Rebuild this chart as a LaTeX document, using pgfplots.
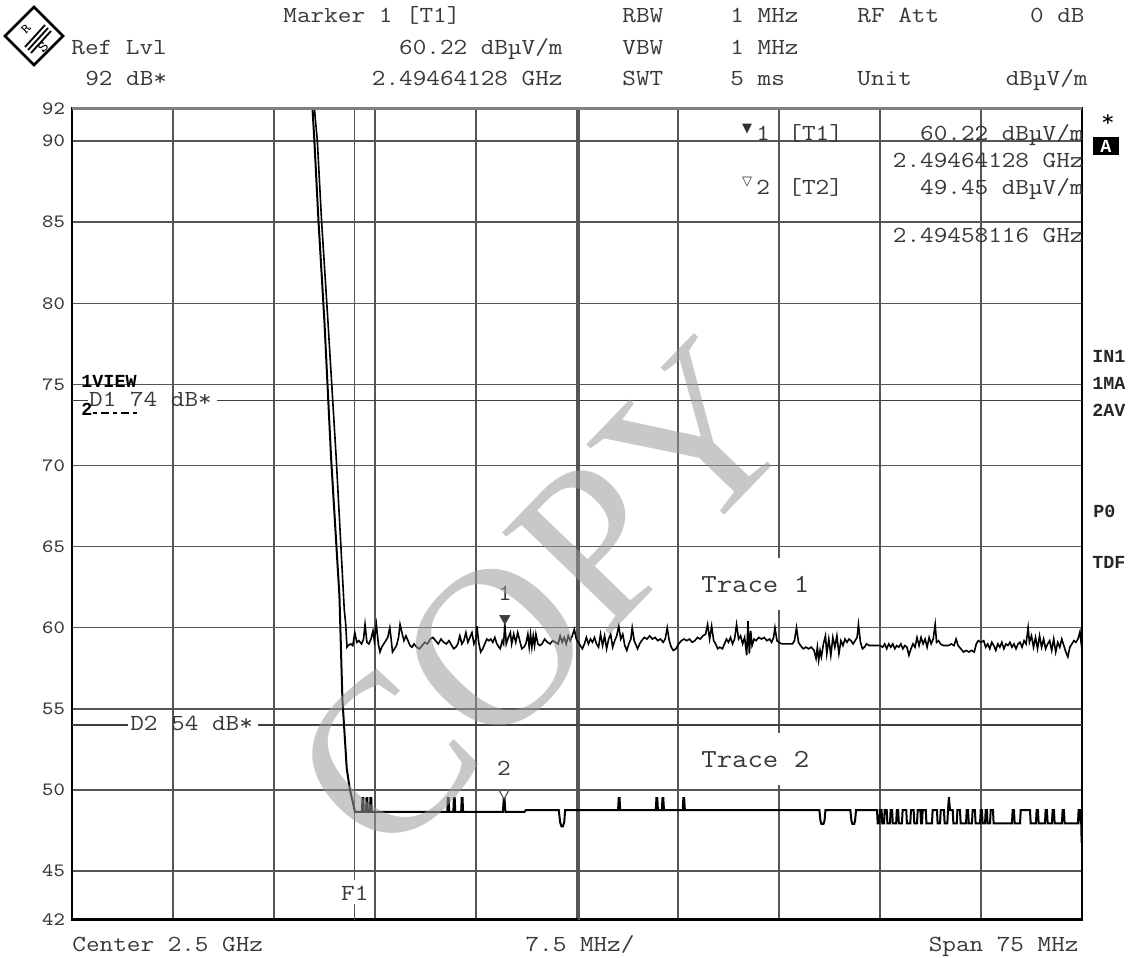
\documentclass[border=0pt]{standalone}
\usepackage{fontspec}
\setmainfont{Latin Modern Mono}[FakeStretch=1.15]
\newfontfamily\bmono{Liberation Mono}
\newfontfamily\wmfont{Liberation Serif}
\newfontfamily\symfont{DejaVu Sans}
\usepackage{pgfplots}
\pgfplotsset{compat=1.18}
\definecolor{txt}{HTML}{383838}
\definecolor{grd}{HTML}{555555}
\definecolor{wm}{HTML}{9B9B9B}
\newcommand\hd{\fontsize{11.5}{13}\selectfont}
\newcommand\sm{\fontsize{9.4}{11}\selectfont}
\newcommand\bsm{\bmono\bfseries\fontsize{9.2}{11}\selectfont}
\begin{document}
\begin{tikzpicture}
\useasboundingbox (0,0) rectangle (568pt,479pt);
\begin{axis}[
  at={(36pt,19.15pt)}, anchor=south west,
  scale only axis, width=505pt, height=405.55pt,
  xmin=2462.5, xmax=2537.5, ymin=42, ymax=92,
  xtick={2470,2477.5,2485,2492.5,2500,2507.5,2515,2522.5,2530},
  xticklabels={},
  ytick={42,45,50,55,60,65,70,75,80,85,90,92},
  grid=major, major grid style={grd, line width=0.7pt},
  major tick length=0pt,
  axis line style={black, line width=1.4pt},
  y tick label style={font=\sm, text=txt},
  /pgf/number format/assume math mode=true,
]
% display lines D1 and D2
\addplot[black!75, line width=0.7pt] coordinates {(2462.5,74) (2463.69,74)};
\addplot[black!75, line width=0.7pt] coordinates {(2473.27,74) (2537.5,74)};
\addplot[black!75, line width=0.7pt] coordinates {(2462.5,54) (2466.66,54)};
\addplot[black!75, line width=0.7pt] coordinates {(2476.31,54) (2537.5,54)};
% F1 line and centre double line
\addplot[grd, line width=0.7pt] coordinates {(2483.5,92) (2483.5,44.44)};
\addplot[grd, line width=0.7pt] coordinates {(2483.5,42.96) (2483.5,42)};
\addplot[grd, line width=0.6pt] coordinates {(2500.15,42) (2500.15,92)};
% Trace 1 (max peak)
\addplot[black, line width=0.8pt] coordinates {
(2462.5,92) (2480.50,92) (2480.72,90) (2481.03,85.13) (2481.50,78.96) (2482.12,70.46) (2482.72,61.09) (2482.82,60.28) (2482.92,58.8)
(2483.0,58.9) (2483.2,59.0) (2483.35,58.9) (2483.5,59.7) (2483.65,59.1) (2483.8,59.2) (2484.0,59.0) (2484.15,59.3) (2484.26,60.2) (2484.4,59.1) (2484.55,59.0) (2484.7,59.3) (2484.85,59.8) (2484.95,59.2) (2485.1,60.2) (2485.25,59.0) (2485.37,58.5) (2485.5,58.8) (2485.65,59.0) (2485.8,59.2) (2485.95,59.4) (2486.1,60.0) (2486.2,59.3) (2486.3,58.5) (2486.45,58.7) (2486.6,58.9) (2486.75,59.4) (2486.86,60.2) (2487.0,59.7) (2487.15,59.2) (2487.3,59.5) (2487.45,59.2) (2487.6,58.9) (2487.75,58.8) (2487.9,59.0) (2488.1,58.8) (2488.3,58.7) (2488.5,58.9) (2488.7,59.1) (2488.9,59.0) (2489.1,59.3) (2489.3,59.4) (2489.5,59.2) (2489.7,59.0) (2489.9,59.3) (2490.1,59.1) (2490.3,59.0) (2490.5,59.2) (2490.7,58.9) (2490.85,58.7) (2491.0,58.8) (2491.15,59.0) (2491.3,59.5) (2491.45,59.0) (2491.6,59.2) (2491.75,59.7) (2491.9,59.1) (2492.05,59.4) (2492.2,59.7) (2492.35,59.0) (2492.5,59.3) (2492.57,60.1) (2492.7,59.1) (2492.85,58.5) (2493.0,58.7) (2493.15,59.0) (2493.3,59.3) (2493.45,59.2) (2493.6,59.3) (2493.75,59.1) (2493.9,59.4) (2494.05,59.0) (2494.2,58.8) (2494.3,58.7) (2494.45,59.2) (2494.55,59.0) (2494.64,60.22) (2494.75,59.0) (2494.9,59.4) (2495.05,59.7) (2495.15,59.0) (2495.3,59.6) (2495.45,59.1) (2495.6,59.7) (2495.75,59.2) (2495.9,58.7) (2496.05,58.8) (2496.2,59.0) (2496.35,59.6) (2496.45,58.8) (2496.55,59.6) (2496.65,58.8) (2496.75,59.5) (2496.85,58.9) (2496.95,59.6) (2497.1,59.0) (2497.25,58.9) (2497.4,59.0) (2497.6,59.3) (2497.8,59.1) (2498.0,59.0) (2498.2,59.2) (2498.4,59.1) (2498.6,59.0) (2498.75,59.5) (2498.9,59.1) (2499.05,59.4) (2499.2,59.0) (2499.35,59.5) (2499.5,59.2) (2499.65,59.5) (2499.8,59.9) (2499.95,59.3) (2500.1,59.1) (2500.25,58.9) (2500.4,58.7) (2500.55,59.0) (2500.7,59.4) (2500.85,59.0) (2501.0,59.3) (2501.15,59.1) (2501.3,59.4) (2501.45,59.0) (2501.6,58.8) (2501.75,59.6) (2501.9,58.9) (2502.05,59.5) (2502.2,58.7) (2502.35,59.3) (2502.5,59.6) (2502.65,58.8) (2502.8,59.2) (2502.95,59.5) (2503.1,60.1) (2503.25,59.3) (2503.4,59.6) (2503.55,58.9) (2503.7,58.6) (2503.85,59.0) (2504.0,59.3) (2504.1,60.0) (2504.25,59.2) (2504.4,58.9) (2504.5,58.7) (2504.65,59.0) (2504.8,59.2) (2505.0,59.4) (2505.2,59.3) (2505.4,59.5) (2505.6,59.3) (2505.8,59.4) (2506.0,59.2) (2506.2,59.3) (2506.4,59.1) (2506.55,59.3) (2506.7,60.0) (2506.85,59.2) (2507.0,58.8) (2507.15,58.6) (2507.35,58.7) (2507.55,59.0) (2507.75,59.2) (2507.95,59.3) (2508.15,59.2) (2508.35,59.3) (2508.55,59.1) (2508.75,59.2) (2508.95,59.4) (2509.15,59.3) (2509.35,59.5) (2509.55,59.6) (2509.7,60.2) (2509.85,59.3) (2510.0,60.1) (2510.15,59.2) (2510.3,59.0) (2510.45,58.7) (2510.6,58.8) (2510.8,58.7) (2510.95,59.0) (2511.1,59.3) (2511.25,59.1) (2511.4,59.4) (2511.55,59.0) (2511.7,59.3) (2511.85,60.2) (2512.0,59.3) (2512.15,59.5) (2512.3,59.0) (2512.45,59.4) (2512.6,58.3) (2512.7,60.4) (2512.8,58.4) (2512.9,59.8) (2513.0,58.9) (2513.15,59.3) (2513.3,59.2) (2513.5,59.4) (2513.7,59.3) (2513.9,59.4) (2514.1,59.2) (2514.3,59.3) (2514.45,59.1) (2514.6,59.4) (2514.7,60.0) (2514.85,59.2) (2515.0,59.1) (2515.2,59.0) (2515.4,59.0) (2515.6,59.0) (2515.8,59.0) (2516.0,59.0) (2516.15,59.2) (2516.3,60.0) (2516.45,59.1) (2516.6,58.9) (2516.8,58.7) (2517.0,58.8) (2517.2,58.7) (2517.4,58.8) (2517.6,58.6) (2517.75,58.1) (2517.85,58.8) (2517.95,58.0) (2518.05,58.6) (2518.15,58.2) (2518.3,59.0) (2518.45,59.5) (2518.55,58.4) (2518.7,59.3) (2518.85,58.3) (2519.0,59.4) (2519.15,58.8) (2519.3,59.5) (2519.45,58.4) (2519.6,59.2) (2519.75,58.9) (2519.9,59.3) (2520.05,59.1) (2520.2,59.3) (2520.35,59.2) (2520.5,59.0) (2520.65,59.2) (2520.8,59.4) (2520.9,60.2) (2521.05,59.1) (2521.2,58.7) (2521.35,58.8) (2521.5,59.0) (2521.7,58.9) (2521.9,58.9) (2522.1,58.9) (2522.3,58.9) (2522.5,58.9) (2522.7,58.8) (2522.85,59.0) (2523.0,58.7) (2523.15,59.0) (2523.3,58.8) (2523.45,59.0) (2523.6,58.7) (2523.75,58.9) (2523.9,58.8) (2524.05,59.0) (2524.2,58.7) (2524.35,58.9) (2524.5,58.8) (2524.65,58.3) (2524.8,58.7) (2524.95,59.0) (2525.1,58.8) (2525.25,59.4) (2525.4,58.9) (2525.55,59.4) (2525.7,59.0) (2525.85,59.3) (2526.0,58.8) (2526.15,59.4) (2526.3,59.0) (2526.45,59.3) (2526.6,60.2) (2526.7,59.1) (2526.85,59.2) (2527.0,59.0) (2527.2,58.9) (2527.4,58.9) (2527.6,58.9) (2527.8,59.0) (2528.0,58.9) (2528.15,59.3) (2528.3,58.9) (2528.5,58.7) (2528.7,58.5) (2528.9,58.6) (2529.1,58.5) (2529.3,58.6) (2529.5,58.5) (2529.65,59.0) (2529.8,59.2) (2530.0,59.1) (2530.2,59.2) (2530.35,58.8) (2530.5,59.0) (2530.65,58.7) (2530.8,59.1) (2530.95,58.9) (2531.1,58.6) (2531.25,59.0) (2531.4,58.8) (2531.55,59.1) (2531.7,58.7) (2531.85,59.0) (2532.0,58.9) (2532.15,59.1) (2532.3,58.8) (2532.45,59.0) (2532.6,58.7) (2532.75,59.0) (2532.9,59.1) (2533.05,58.8) (2533.2,59.2) (2533.35,59.0) (2533.5,60.0) (2533.6,59.1) (2533.75,59.5) (2533.9,58.8) (2534.05,59.4) (2534.2,58.7) (2534.35,59.5) (2534.5,58.8) (2534.65,59.3) (2534.8,58.7) (2534.95,59.0) (2535.1,59.2) (2535.25,58.6) (2535.4,59.3) (2535.55,58.5) (2535.7,59.1) (2535.85,58.8) (2536.0,59.3) (2536.15,58.9) (2536.3,58.5) (2536.45,58.2) (2536.6,58.8) (2536.75,59.0) (2536.9,59.2) (2537.05,59.1) (2537.2,59.3) (2537.35,59.75) (2537.5,58.6)
};
% Trace 2 (average)
\addplot[black, line width=1pt] coordinates {
(2462.5,92) (2480.36,92) (2480.50,90) (2480.80,85.13) (2481.24,78.96) (2481.74,70.46) (2482.36,61.95) (2482.58,55.60) (2482.90,51.34) (2483.14,49.99) (2483.37,49.19) (2483.51,48.65)
(2484.03,48.65) (2484.07,49.5) (2484.13,49.5) (2484.17,48.65)
(2484.33,48.65) (2484.37,49.5) (2484.43,49.5) (2484.47,48.65)
(2484.62,48.65) (2484.66,49.5) (2484.72,49.5) (2484.76,48.65)
(2490.37,48.65) (2490.41,49.5) (2490.47,49.5) (2490.51,48.65)
(2490.82,48.65) (2490.86,49.5) (2490.92,49.5) (2490.96,48.65)
(2491.40,48.65) (2491.44,49.5) (2491.50,49.5) (2491.54,48.65)
(2494.50,48.65) (2494.56,49.45) (2494.62,49.45) (2494.68,48.65)
(2496.10,48.65) (2496.20,48.75)
(2498.65,48.75) (2498.75,48.0) (2498.85,47.75) (2498.95,47.75) (2499.05,48.0) (2499.12,48.75)
(2503.05,48.75) (2503.10,49.5) (2503.16,49.5) (2503.21,48.75)
(2505.85,48.75) (2505.90,49.5) (2505.96,49.5) (2506.01,48.75)
(2506.30,48.75) (2506.35,49.5) (2506.41,49.5) (2506.46,48.75)
(2507.85,48.75) (2507.90,49.5) (2507.96,49.5) (2508.01,48.75)
(2518.00,48.75) (2518.08,48.1) (2518.15,47.9) (2518.30,47.9) (2518.38,48.1) (2518.45,48.75)
(2520.30,48.75) (2520.38,48.1) (2520.45,47.9) (2520.58,47.9) (2520.65,48.1) (2520.72,48.75)
(2522.28,48.75) (2522.33,47.93) (2522.45,47.93) (2522.50,48.75) (2522.62,48.75) (2522.67,47.93) (2522.80,47.93) (2522.85,48.75) (2523.00,48.75) (2523.05,47.93)
(2523.24,47.93) (2523.29,48.75) (2523.40,48.75) (2523.45,47.93) (2523.70,47.93) (2523.75,48.75) (2523.85,48.75) (2523.90,47.93)
(2524.13,47.93) (2524.18,48.75) (2524.45,48.75) (2524.50,47.93) (2524.75,47.93) (2524.80,48.75) (2525.00,48.75) (2525.05,47.93)
(2525.25,47.93) (2525.30,48.75) (2525.50,48.75) (2525.55,47.93) (2525.62,47.93) (2525.67,48.75) (2525.90,48.75) (2525.95,47.93)
(2526.36,47.93) (2526.41,48.75) (2526.73,48.75) (2526.78,47.93) (2526.96,47.93) (2527.01,48.75) (2527.25,48.75) (2527.30,47.93)
(2527.50,47.93) (2527.55,48.75) (2527.62,49.55) (2527.70,48.75) (2527.90,48.75) (2527.95,47.93) (2528.20,47.93) (2528.25,48.75)
(2528.44,48.75) (2528.49,47.93) (2528.89,47.93) (2528.94,48.75) (2529.04,48.75) (2529.09,47.93) (2529.33,47.93) (2529.38,48.75)
(2529.55,48.75) (2529.60,47.93) (2529.93,47.93) (2529.98,48.75) (2530.07,48.75) (2530.12,47.93) (2530.30,47.93) (2530.35,48.75)
(2530.44,48.75) (2530.49,47.93) (2530.67,47.93) (2530.72,48.75) (2530.89,48.75) (2530.94,47.93)
(2532.30,47.93) (2532.35,48.75) (2532.45,48.75) (2532.50,47.93) (2532.90,47.93) (2532.95,48.75) (2533.64,48.75) (2533.69,47.93)
(2534.08,47.93) (2534.13,48.75) (2534.23,48.75) (2534.28,47.93) (2534.75,47.93) (2534.80,48.75) (2534.90,48.75) (2534.95,47.93)
(2535.27,47.93) (2535.32,48.75) (2535.42,48.75) (2535.47,47.93) (2536.01,47.93) (2536.06,48.75) (2536.16,48.75) (2536.21,47.93)
(2537.20,47.93) (2537.25,48.75) (2537.35,48.75) (2537.40,47.93) (2537.45,47.93) (2537.47,46.8) (2537.5,46.8)
};
% markers
\addplot[only marks, mark=triangle*, mark size=2.9pt, black!75,
  mark options={yshift=2.9pt, rotate=180},
  nodes near coords={1},
  every node near coord/.append style={font=\hd, text=txt, anchor=south, inner sep=0pt, yshift=8.5pt}]
  coordinates {(2494.64128,60.22)};
\addplot[only marks, mark=triangle, mark size=2.9pt, black!65,
  mark options={yshift=2.9pt, rotate=180, line width=0.6pt},
  nodes near coords={2},
  every node near coord/.append style={font=\hd, text=txt, anchor=south, inner sep=0pt, yshift=8.5pt}]
  coordinates {(2494.58116,49.45)};
\node[font=\hd, text=txt, anchor=base west, inner sep=0pt] at (axis cs:2463.75,74) [yshift=-3pt] {D1 74 dB*};
\node[font=\hd, text=txt, anchor=base west, inner sep=0pt] at (axis cs:2466.8,54) [yshift=-2.5pt] {D2 54 dB*};
\node[font=\hd, text=txt, inner sep=0pt] at (axis cs:2483.5,43.6) {F1};
\end{axis}
\begin{scope}[x=0.5pt,y=-0.5pt,shift={(0,479pt)}]
% top frame gray
\draw[black!50, line width=1.8pt] (72,108.6) -- (1082,108.6);
% logo
\draw[black, line width=1.3pt] (34,7) -- (63,36) -- (34,65) -- (5,36) -- cycle;
\draw[black, line width=0.9pt] (25,47) -- (45,25);
\draw[black, line width=0.9pt] (28,50) -- (48,28);
\draw[black, line width=0.9pt] (31,53) -- (51,31);
\node[font=\fontsize{6.5}{7}\selectfont, inner sep=0pt, rotate=45] at (26,29) {R};
\node[font=\fontsize{7.5}{8}\selectfont, inner sep=0pt, rotate=45] at (43,47) {S};
% header
\begin{scope}[every node/.style={font=\hd, text=txt, inner sep=0pt}]
\node[anchor=base west] at (283,23) {Marker 1 [T1]};
\node[anchor=base west] at (71,55) {Ref Lvl};
\node[anchor=base west] at (85,86) {92 dB*};
\node[anchor=base east] at (563,55) {60.22 dBµV/m};
\node[anchor=base east] at (563,86) {2.49464128 GHz};
\node[anchor=base west] at (622,23) {RBW};
\node[anchor=base west] at (622,55) {VBW};
\node[anchor=base west] at (622,86) {SWT};
\node[anchor=base west] at (730,23) {1 MHz};
\node[anchor=base west] at (730,55) {1 MHz};
\node[anchor=base west] at (730,86) {5 ms};
\node[anchor=base west] at (857,23) {RF Att};
\node[anchor=base west] at (857,86) {Unit};
\node[anchor=base east] at (1085,23) {0 dB};
\node[anchor=base east] at (1088,86) {dBµV/m};
% marker table
\node[font=\symfont\fontsize{6.5}{7}\selectfont, text=black!80] at (747,129) {▼};
\node[anchor=base west] at (756,141) {1};
\node[anchor=base west] at (788,141) {[T1]};
\node[anchor=base east] at (1084,141) {60.22 dBµV/m};
\node[anchor=base east] at (1084,168) {2.49464128 GHz};
\node[font=\symfont\fontsize{6.5}{7}\selectfont, text=black!80] at (747,182) {▽};
\node[anchor=base west] at (756,195) {2};
\node[anchor=base west] at (788,195) {[T2]};
\node[anchor=base east] at (1084,195) {49.45 dBµV/m};
\node[anchor=base east] at (1084,243) {2.49458116 GHz};
% bottom
\node[anchor=base west] at (72,952) {Center 2.5 GHz};
\node[anchor=base] at (580,952) {7.5 MHz/};
\node[anchor=base east] at (1079,952) {Span 75 MHz};
\end{scope}
% trace labels
\node[anchor=west, fill=white, inner xsep=2pt, inner ysep=0pt, minimum height=26pt, font=\fontsize{13}{14}\selectfont, text=txt] at (697,584) {Trace 1};
\node[anchor=west, fill=white, inner xsep=2pt, inner ysep=0pt, minimum height=26pt, font=\fontsize{13}{14}\selectfont, text=txt] at (697,759) {Trace 2};
% left annotations
\node[anchor=base west, font=\bsm, inner sep=0pt] at (81,388) {1VIEW};
\node[anchor=base west, font=\bsm, inner sep=0pt] at (81,416) {2};
\draw[black, line width=1.1pt, dash pattern=on 2pt off 2pt on 4pt off 2pt] (93,413) -- (139,413);
% right annotations
\node[font=\hd, text=black, inner sep=0pt] at (1108,121) {*};
\node[fill=black, text=white, font=\bsm, minimum width=13pt, minimum height=9pt, inner sep=0pt] at (1106,146) {A};
\begin{scope}[every node/.style={font=\bsm, anchor=west, inner sep=0pt, text=black!85}]
\node at (1092,356) {IN1};
\node at (1092,383) {1MA};
\node at (1092,410) {2AV};
\node at (1093,511) {P0};
\node at (1092,562) {TDF};
\end{scope}
% watermark
\node[rotate=46, text=wm, text opacity=0.55, font=\wmfont\fontsize{113}{113}\selectfont, inner sep=0pt] at (543,598) {COPY};
\end{scope}
\end{tikzpicture}
\end{document}
